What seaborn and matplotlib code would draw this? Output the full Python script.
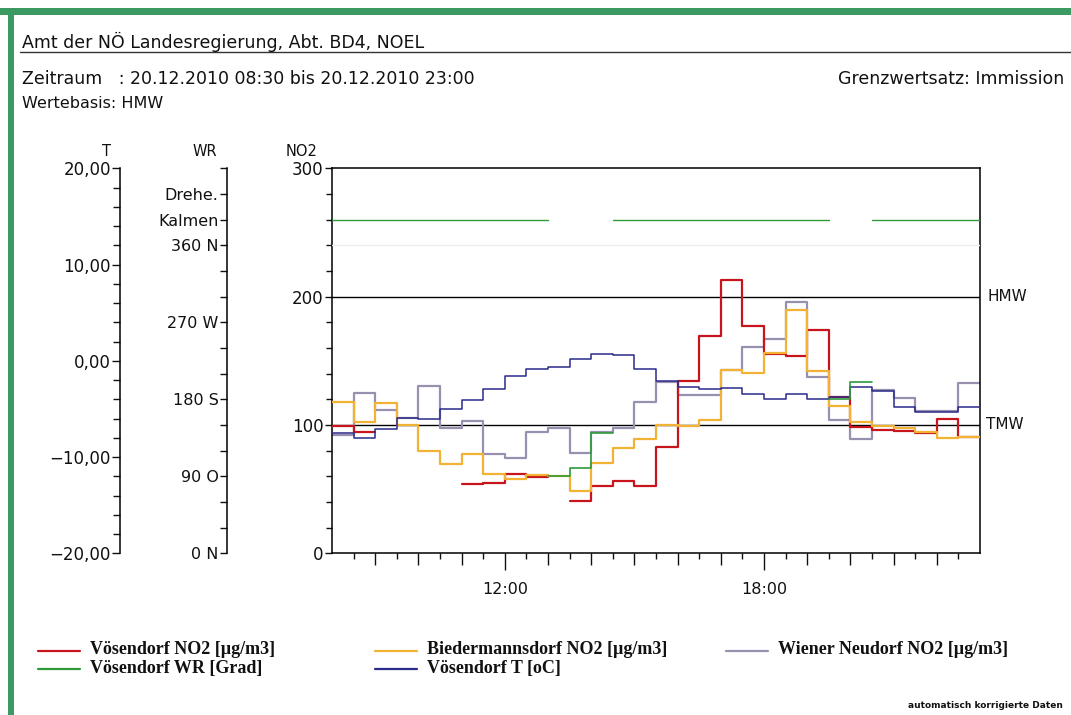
import numpy as np
import pandas as pd
import matplotlib
matplotlib.use("Agg")
import matplotlib.pyplot as plt
import seaborn as sns
from matplotlib.lines import Line2D
from matplotlib.patches import Rectangle
from matplotlib.transforms import blended_transform_factory

# ---------------- data (half-hour means, 08:00-23:00, step start times) ----------------
start_hour = 8.0
step_hours = 0.5

voesendorf_no2 = [99.5, 94.3, None, None, None, None, 53.8, 54.5, 61.7, 59.5,
                  None, 40.8, 52.7, 56.6, 52.7, 82.5, 134.3, 169.2, 213.0, 177.0,
                  155.5, 153.8, 173.7, 121.5, 98.7, 95.8, 95.0, 94.0, 104.5, 91.0]
biedermannsdorf_no2 = [118.2, 102.0, 116.9, 100.0, 79.7, 69.4, 77.4, 61.8, 58.2, 61.0,
                       60.5, 48.6, 70.1, 81.8, 88.8, 100.0, 99.5, 103.6, 142.9, 140.5,
                       156.0, 189.8, 141.8, 114.6, 102.0, 99.5, 97.5, 94.5, 90.0, 90.4]
wiener_neudorf_no2 = [92.0, 125.0, 111.7, 105.7, 130.0, 98.0, 103.4, 77.0, 74.5, 94.8,
                      98.0, 78.0, 94.5, 98.0, 117.7, 133.8, 123.0, 123.4, 143.0, 160.5,
                      166.6, 196.0, 137.3, 104.0, 88.8, 127.0, 121.0, 110.5, 111.0, 132.5]
voesendorf_wr = ["Kalmen", "Kalmen", "Kalmen", "Kalmen", "Kalmen", "Kalmen", "Kalmen", "Kalmen", "Kalmen", "Kalmen",
                 90, 100, 141, "Kalmen", "Kalmen", "Kalmen", "Kalmen", "Kalmen", "Kalmen", "Kalmen",
                 "Kalmen", "Kalmen", "Kalmen", 180, 200, "Kalmen", "Kalmen", "Kalmen", "Kalmen", "Kalmen"]
voesendorf_t = [-7.5, -8.0, -7.1, -5.9, -6.0, -5.0, -4.1, -2.9, -1.6, -0.9,
                -0.6, 0.2, 0.7, 0.6, -0.9, -2.1, -2.7, -2.9, -2.8, -3.5,
                -4.0, -3.5, -4.0, -3.8, -2.7, -3.1, -4.8, -5.3, -5.3, -4.8]

hmw_limit = 200
tmw_limit = 100

no2_ticks = [0, 100, 200, 300]
t_ticks = [-20, -10, 0, 10, 20]
t_tick_labels = ["\u221220,00", "\u221210,00", "0,00", "10,00", "20,00"]
wr_ticks = [0, 90, 180, 270, 360, 390, 420]
wr_tick_labels = ["0 N", "90 O", "180 S", "270 W", "360 N", "Kalmen", "Drehe."]
x_label_ticks = [12, 18]
x_tick_labels = ["12:00", "18:00"]

legend_labels = ["V\u00f6sendorf NO2 [\u00b5g/m3]", "Biedermannsdorf NO2 [\u00b5g/m3]",
                 "Wiener Neudorf NO2 [\u00b5g/m3]", "V\u00f6sendorf WR [Grad]", "V\u00f6sendorf T [oC]"]

# ---------------- style ----------------
red = "#c8141c"
yellow = "#f2b233"
gray = "#9890ae"
green = "#2f9a3a"
blue = "#2b2b8c"
frame_green = "#3a9a62"
ink = "#111111"

sns.set_style("white")
plt.rcParams["font.family"] = ["DejaVu Sans"]
plt.rcParams["text.color"] = ink
plt.rcParams["xtick.color"] = ink
plt.rcParams["ytick.color"] = ink
plt.rcParams["xtick.labelcolor"] = ink
plt.rcParams["ytick.labelcolor"] = ink

W, H = 1071, 715
fig = plt.figure(figsize=(W / 100, H / 100), dpi=100)
fig.patch.set_facecolor("white")


def fx(x):
    return x / W


def fy(y):
    return 1 - y / H


ax = fig.add_axes([fx(332), fy(553.3), fx(980) - fx(332), fy(168.3) - fy(553.3)])
ax_t = ax.twinx()
ax_wr = ax.twinx()


def segments(values):
    segs, cur = [], []
    for i, v in enumerate(values):
        if v is None:
            if cur:
                segs.append(cur)
                cur = []
        else:
            cur.append(i)
    if cur:
        segs.append(cur)
    return segs


def draw_steps(target, values, color, lw, z):
    for seg in segments(values):
        idx = seg + [seg[-1] + 1]
        df = pd.DataFrame({
            "t": [start_hour + step_hours * i for i in idx],
            "v": [values[i] for i in seg] + [values[seg[-1]]],
        })
        sns.lineplot(data=df, x="t", y="v", ax=target, color=color, lw=lw,
                     drawstyle="steps-post", estimator=None, sort=False,
                     legend=False, zorder=z)


# NO2 series
ax.axhline(hmw_limit, color="black", lw=1.0, zorder=1)
ax.axhline(tmw_limit, color="black", lw=1.0, zorder=1)
draw_steps(ax, wiener_neudorf_no2, gray, 1.6, 2)
draw_steps(ax, voesendorf_no2, red, 1.6, 3)
draw_steps(ax, biedermannsdorf_no2, yellow, 1.6, 4)

# wind direction: numeric degrees and calm ("Kalmen") drawn separately
kalmen_pos = wr_ticks[wr_tick_labels.index("Kalmen")]
wr_numeric = [v if not isinstance(v, str) else None for v in voesendorf_wr]
wr_calm = [kalmen_pos if isinstance(v, str) else None for v in voesendorf_wr]
ax_wr.axhline(360, color="#ededed", lw=1.0, zorder=0)
draw_steps(ax_wr, wr_calm, green, 1.0, 3)
draw_steps(ax_wr, wr_numeric, green, 1.2, 3)

# temperature
draw_steps(ax_t, voesendorf_t, blue, 1.1, 4)

# ---------------- axes ----------------
ax.set_xlim(8, 23)
ax.set_ylim(0, 300)
ax_t.set_ylim(-20, 20)
ax_wr.set_ylim(0, 450)
for a in (ax, ax_t, ax_wr):
    a.set_xlabel("")
    a.set_ylabel("")

for s in ax.spines.values():
    s.set_visible(True)
    s.set_color("black")
    s.set_linewidth(1.1)

ax.set_xticks(x_label_ticks, labels=x_tick_labels)
ax.set_xticks([h for h in range(9, 23) if h not in x_label_ticks], minor=True)
ax.tick_params(axis="x", which="major", direction="out", length=12, width=1,
               pad=9, labelsize=11.5, bottom=True)
ax.tick_params(axis="x", which="minor", direction="out", length=8.5, width=1, bottom=True)
sec = ax.secondary_xaxis("bottom")
sec.set_xticks([h + 0.5 for h in range(8, 23)], labels=[])
sec.tick_params(axis="x", direction="out", length=4.5, width=1, bottom=True)
sec.spines["bottom"].set_visible(False)

ax.set_yticks(no2_ticks, labels=[str(v) for v in no2_ticks])
ax.set_yticks(list(range(0, 301, 20)), minor=True)
ax.tick_params(axis="y", which="major", direction="out", length=5, width=1,
               pad=1, labelsize=12, left=True, right=False)
ax.tick_params(axis="y", which="minor", direction="out", length=4, width=1,
               left=True, right=False)

for a, xpos in ((ax_t, 120), (ax_wr, 227)):
    for name in ("top", "right", "bottom"):
        a.spines[name].set_visible(False)
    a.spines["left"].set_visible(True)
    a.spines["left"].set_color("black")
    a.spines["left"].set_linewidth(1.1)
    a.spines["left"].set_position(("axes", (xpos - 332) / 648))
    a.yaxis.set_ticks_position("left")
    a.yaxis.set_label_position("left")

ax_t.set_yticks(t_ticks, labels=t_tick_labels)
ax_t.set_yticks(list(range(-20, 21, 2)), minor=True)
ax_t.tick_params(axis="y", which="major", direction="out", length=5.5, width=1,
                 pad=1, labelsize=12, left=True)
ax_t.tick_params(axis="y", which="minor", direction="out", length=5, width=1, left=True)

ax_wr.set_yticks(wr_ticks, labels=wr_tick_labels)
ax_wr.set_yticks(list(range(0, 451, 30)), minor=True)
ax_wr.tick_params(axis="y", which="major", direction="out", length=5, width=1,
                  pad=1, labelsize=11.5, left=True)
ax_wr.tick_params(axis="y", which="minor", direction="out", length=5, width=1, left=True)

# limit labels
bt = blended_transform_factory(ax.transAxes, ax.transData)
ax.text(1.012, hmw_limit, "HMW", transform=bt, va="center", ha="left", fontsize=11)
ax.text(1.009, tmw_limit, "TMW", transform=bt, va="center", ha="left", fontsize=11)

# axis titles
fig.text(fx(107), fy(151), "T", ha="center", va="center", fontsize=10.5)
fig.text(fx(205), fy(151), "WR", ha="center", va="center", fontsize=10.5)
fig.text(fx(302), fy(151), "NO2", ha="center", va="center", fontsize=10.5)

# ---------------- header ----------------
fig.text(fx(22), fy(42), "Amt der N\u00d6 Landesregierung, Abt. BD4, NOEL",
         ha="left", va="center", fontsize=12.5)
fig.add_artist(Line2D([fx(20), fx(1071)], [fy(52), fy(52)], color="#333333", lw=1.0,
                      transform=fig.transFigure))
fig.text(fx(22), fy(79), "Zeitraum   : 20.12.2010 08:30 bis 20.12.2010 23:00",
         ha="left", va="center", fontsize=12.5)
fig.text(fx(1064), fy(79), "Grenzwertsatz: Immission", ha="right", va="center", fontsize=12.5)
fig.text(fx(22), fy(104), "Wertebasis: HMW", ha="left", va="center", fontsize=11.5)

# ---------------- legend ----------------
legend_items = [
    (38, 651, red, legend_labels[0]),
    (375, 651, yellow, legend_labels[1]),
    (726, 651, gray, legend_labels[2]),
    (38, 669, green, legend_labels[3]),
    (375, 669, blue, legend_labels[4]),
]
for x0, y0, col, lab in legend_items:
    fig.add_artist(Line2D([fx(x0), fx(x0 + 42)], [fy(y0), fy(y0)], color=col, lw=1.6,
                          transform=fig.transFigure))
    fig.text(fx(x0 + 52), fy(y0 - 1), lab, ha="left", va="center", fontsize=13,
             family=["Liberation Serif", "DejaVu Serif"], fontweight="bold")

fig.text(fx(1063), fy(706), "automatisch korrigierte Daten", ha="right", va="center",
         fontsize=6.5, fontweight="bold")

# ---------------- green frame ----------------
fig.add_artist(Rectangle((0, fy(15)), 1, fy(8) - fy(15), transform=fig.transFigure,
                         color=frame_green, lw=0))
fig.add_artist(Rectangle((fx(8), 0), fx(14) - fx(8), fy(8), transform=fig.transFigure,
                         color=frame_green, lw=0))

fig.savefig("out.png", dpi=100, facecolor="white")
